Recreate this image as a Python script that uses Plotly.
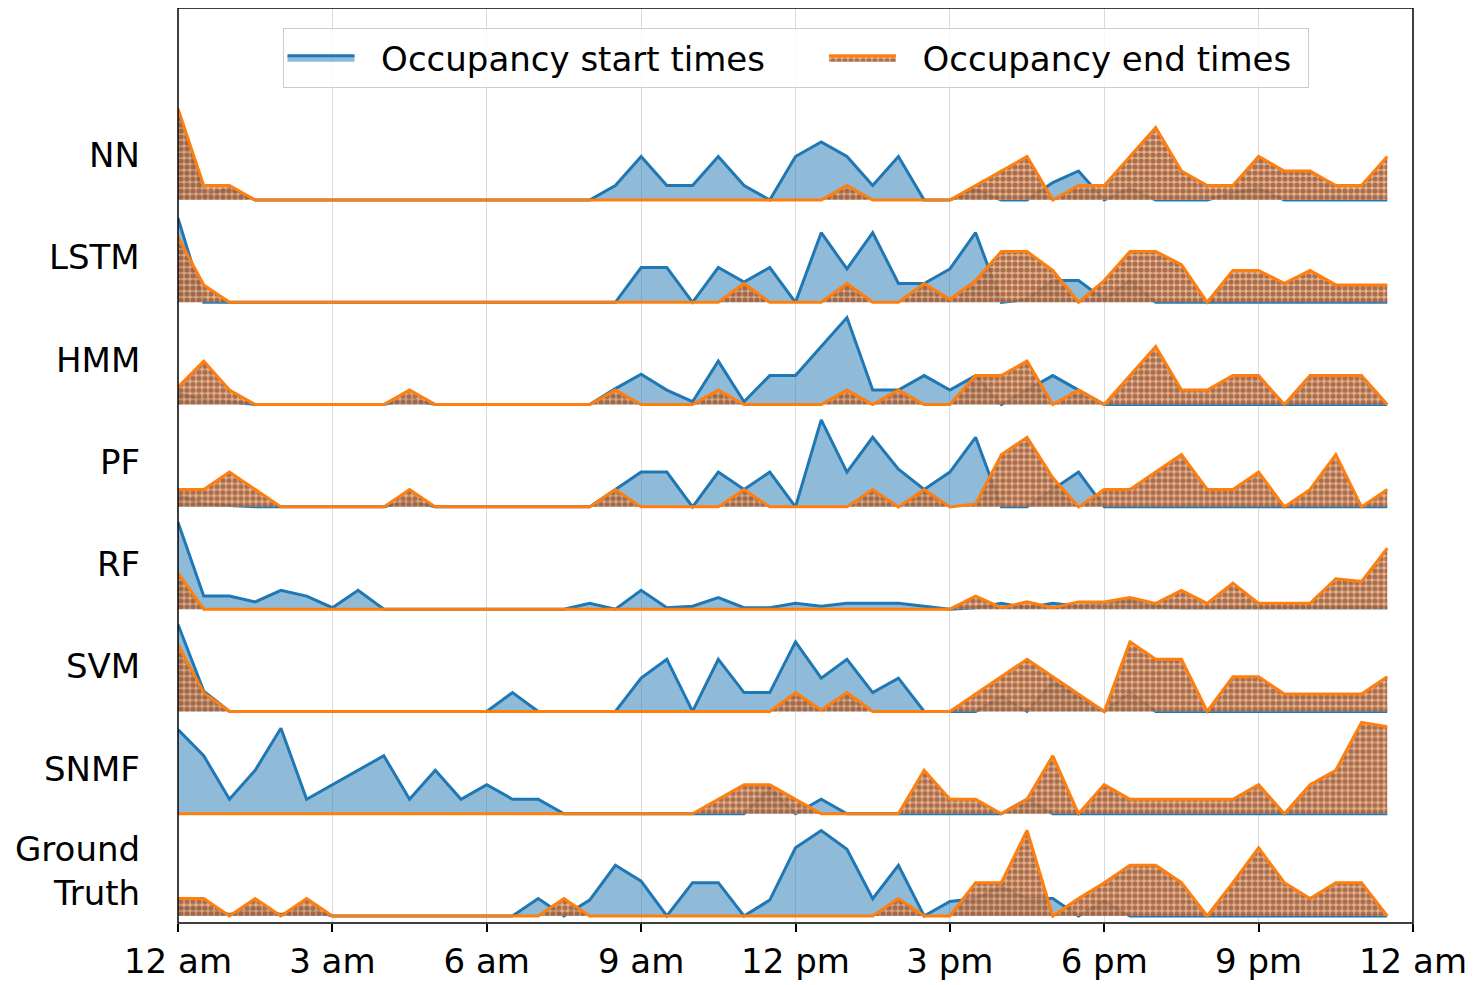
import plotly.graph_objects as go
from plotly.subplots import make_subplots

# ---------------- data (30-minute bins, 0..23.5 h) ----------------
hours = [i * 0.5 for i in range(48)]
tick_vals = [0, 3, 6, 9, 12, 15, 18, 21, 24]
tick_text = ["12 am", "3 am", "6 am", "9 am", "12 pm", "3 pm", "6 pm", "9 pm", "12 am"]
models = ["NN", "LSTM", "HMM", "PF", "RF", "SVM", "SNMF", "Ground<br>Truth"]
series_names = ["Occupancy start times", "Occupancy end times"]

NN_start = [6.0, 0.3, 0.8, 0, 0, 0, 0, 0, 0, 0, 0, 0,
            0, 0, 0, 0, 0, 1, 3, 1, 1, 3, 1, 0,
            3, 4, 3, 1, 3, 0, 0, 0.7, 0, 0, 1.2, 2,
            0, 0.8, 0, 0, 0, 0.5, 0.8, 0, 0, 0, 0, 0]
NN_end = [6.3, 1, 1, 0, 0, 0, 0, 0, 0, 0, 0, 0,
          0, 0, 0, 0, 0, 0, 0, 0, 0, 0, 0, 0,
          0, 0, 1, 0, 0, 0, 0, 1, 2, 3, 0, 1,
          1, 3, 5, 2, 1, 1, 3, 2, 2, 1, 1, 3]

LSTM_start = [5.8, 0, 0, 0, 0, 0, 0, 0, 0, 0, 0, 0,
              0, 0, 0, 0, 0, 0, 2.4, 2.4, 0, 2.4, 1.4, 2.4,
              0, 4.8, 2.3, 4.8, 1.3, 1.3, 2.3, 4.8, 0, 0.2, 1.5, 1.5,
              0.2, 1.5, 0, 0, 0, 0, 0, 0, 0, 0, 0, 0]
LSTM_end = [4.5, 1.2, 0, 0, 0, 0, 0, 0, 0, 0, 0, 0,
            0, 0, 0, 0, 0, 0, 0, 0, 0, 0, 1.3, 0,
            0, 0, 1.3, 0, 0, 1.3, 0.2, 1.5, 3.5, 3.5, 2.2, 0,
            1.5, 3.5, 3.5, 2.6, 0, 2.2, 2.2, 1.3, 2.2, 1.2, 1.2, 1.2]

HMM_start = [0.8, 0.3, 0.2, 0, 0, 0, 0, 0, 0, 0.4, 0, 0,
             0, 0, 0, 0, 0, 1.1, 2.1, 1.0, 0.2, 3.0, 0.2, 2.0,
             2.0, 4.0, 6.0, 1.0, 1.0, 2.0, 1.0, 2.0, 0, 1.0, 2.0, 1.0,
             0, 0, 0, 0, 0, 0, 0, 0, 0, 0, 0, 0]
HMM_end = [1.2, 3.0, 1.0, 0, 0, 0, 0, 0, 0, 1.0, 0, 0,
           0, 0, 0, 0, 0, 1.0, 0, 0, 0, 1.0, 0, 0,
           0, 0, 1.0, 0, 1.0, 0, 0, 2.0, 2.0, 3.0, 0, 1.0,
           0, 2.0, 4.0, 1.0, 1.0, 2.0, 2.0, 0, 2.0, 2.0, 2.0, 0]

PF_start = [0.8, 0.2, 0.1, 0, 0, 0, 0, 0, 0, 0.4, 0, 0,
            0, 0, 0, 0, 0, 1.2, 2.4, 2.4, 0, 2.4, 1.2, 2.4,
            0, 6.0, 2.4, 4.8, 2.6, 1.2, 2.4, 4.8, 0, 0, 1.2, 2.4,
            0, 0, 0, 0, 0, 0, 0, 0, 0, 0, 0, 0]
PF_end = [1.2, 1.2, 2.4, 1.2, 0, 0, 0, 0, 0, 1.2, 0, 0,
          0, 0, 0, 0, 0, 1.2, 0, 0, 0, 0, 1.2, 0,
          0, 0, 0, 1.2, 0, 1.2, 0, 0.2, 3.6, 4.8, 2.0, 0,
          1.2, 1.2, 2.4, 3.6, 1.2, 1.2, 2.4, 0, 1.2, 3.6, 0, 1.2]

RF_start = [6.0, 0.9, 0.9, 0.5, 1.3, 0.9, 0.1, 1.3, 0, 0, 0, 0,
            0, 0, 0, 0, 0.4, 0, 1.3, 0.1, 0.2, 0.8, 0.1, 0.1,
            0.4, 0.2, 0.4, 0.4, 0.4, 0.2, 0, 0.1, 0.4, 0.1, 0.4, 0.2,
            0.4, 0.5, 0.2, 0.1, 0.1, 0.1, 0.1, 0.1, 0.1, 0.1, 0.1, 0.1]
RF_end = [2.5, 0, 0, 0, 0, 0, 0, 0, 0, 0, 0, 0,
          0, 0, 0, 0, 0, 0, 0, 0, 0, 0, 0, 0,
          0, 0, 0, 0, 0, 0, 0, 0.9, 0.1, 0.5, 0.1, 0.5,
          0.5, 0.8, 0.4, 1.3, 0.4, 1.8, 0.4, 0.4, 0.4, 2.1, 1.9, 4.2]

SVM_start = [6.0, 1.4, 0, 0, 0, 0, 0, 0, 0, 0, 0, 0,
             0, 1.3, 0, 0, 0, 0, 2.3, 3.6, 0, 3.6, 1.3, 1.3,
             4.8, 2.3, 3.6, 1.3, 2.3, 0, 0, 0, 1.0, 0, 2.0, 1.0,
             0, 1.3, 0, 0, 0, 0, 0, 0, 0, 0, 0, 0]
SVM_end = [4.6, 1.3, 0, 0, 0, 0, 0, 0, 0, 0, 0, 0,
           0, 0, 0, 0, 0, 0, 0, 0, 0, 0, 0, 0,
           1.3, 0.1, 1.3, 0, 0, 0, 0, 1.2, 2.4, 3.6, 2.4, 1.2,
           0, 4.8, 3.6, 3.6, 0, 2.4, 2.4, 1.2, 1.2, 1.2, 1.2, 2.4]

SNMF_start = [5.8, 4.0, 1.0, 3.0, 5.9, 1.0, 2.0, 3.0, 4.0, 1.0, 3.0, 1.0,
              2.0, 1.0, 1.0, 0, 0, 0, 0, 0, 0, 0, 0, 1.7,
              0, 1.0, 0, 0, 0, 0, 0, 0, 0, 1.0, 0, 0,
              0, 0, 0, 0, 0, 0, 0, 0, 0, 0, 0, 0]
SNMF_end = [0, 0, 0, 0, 0, 0, 0, 0, 0, 0, 0, 0,
            0, 0, 0, 0, 0, 0, 0, 0, 0, 1.0, 2.0, 2.0,
            1.0, 0, 0, 0, 0, 3.0, 1.0, 1.0, 0, 1.0, 4.0, 0,
            2.0, 1.0, 1.0, 1.0, 1.0, 1.0, 2.0, 0, 2.0, 3.0, 6.3, 6.0]

GT_start = [0.5, 0.5, 0.1, 0.5, 0.1, 0.5, 0, 0, 0, 0, 0, 0,
            0, 0, 1.2, 0, 1.1, 3.5, 2.4, 0, 2.3, 2.3, 0, 1.1,
            4.7, 5.9, 4.6, 1.2, 3.5, 0, 1.0, 1.2, 2.0, 1.2, 1.2, 0,
            1.0, 0, 0, 0, 0, 0, 0, 0, 0, 0, 0, 0]
GT_end = [1.2, 1.2, 0, 1.2, 0, 1.2, 0, 0, 0, 0, 0, 0,
          0, 0, 0, 1.2, 0, 0, 0, 0, 0, 0, 0, 0,
          0, 0, 0, 0, 1.2, 0, 0, 2.3, 2.3, 5.9, 0, 1.2,
          2.3, 3.5, 3.5, 2.3, 0, 2.3, 4.7, 2.3, 1.2, 2.3, 2.3, 0]

start_series = [NN_start, LSTM_start, HMM_start, PF_start, RF_start, SVM_start, SNMF_start, GT_start]
end_series = [NN_end, LSTM_end, HMM_end, PF_end, RF_end, SVM_end, SNMF_end, GT_end]

# ---------------- layout geometry (page has an 8px body margin) ----------------
W, H = 1465, 977
ML, MR, MT, MB = 170, 60, 0, 62
PH = H - MT - MB          # plot-area height in px
PX_PER_UNIT = 14.5
ROW_STEP = 102.29
FIRST_BASE = 192          # baseline of the first row, in figure px
BELOW = 7
FONT = "DejaVu Sans"
FS = 34
NB = "\u00a0"

fig = make_subplots(rows=8, cols=1, shared_xaxes=True, vertical_spacing=0)

for k in range(8):
    r = k + 1
    fig.add_trace(go.Scatter(
        x=hours, y=start_series[k], mode="lines", fill="tozeroy",
        fillcolor="rgba(31,119,180,0.5)",
        line=dict(color="#1f77b4", width=3),
        name=NB * 2 + series_names[0] + NB * 5, legendgroup="start",
        showlegend=(k == 0)), row=r, col=1)
    fig.add_trace(go.Scatter(
        x=hours, y=end_series[k], mode="lines", fill="tozeroy",
        fillcolor="rgba(210,150,100,0.8)",
        fillpattern=dict(shape=".", bgcolor="rgba(222,165,115,0.85)",
                         fgcolor="rgba(115,40,22,1)", size=6, solidity=0.6),
        line=dict(color="#ff7f0e", width=3),
        name=NB * 2 + series_names[1] + NB, legendgroup="end",
        showlegend=(k == 0)), row=r, col=1)

annotations = []
for k in range(8):
    base = FIRST_BASE + ROW_STEP * k
    bot_px = base + BELOW
    top_px = MT if k == 0 else base + BELOW - ROW_STEP
    d0 = max(0.0, (MT + PH - bot_px) / PH)
    d1 = min(1.0, (MT + PH - top_px) / PH)
    yr = [-BELOW / PX_PER_UNIT, (bot_px - top_px - BELOW) / PX_PER_UNIT]
    yname = "yaxis" if k == 0 else f"yaxis{k + 1}"
    fig.layout[yname].update(domain=[d0, d1], range=yr, showticklabels=False,
                             showgrid=False, zeroline=False, ticks="", fixedrange=True)
    annotations.append(dict(
        text=models[k], x=0, xref="paper", xshift=-36, xanchor="right",
        y=45 / PX_PER_UNIT, yref=("y" if k == 0 else f"y{k + 1}"), yanchor="middle",
        align="right", showarrow=False, font=dict(family=FONT, size=FS, color="black")))

for k in range(8):
    xname = "xaxis" if k == 0 else f"xaxis{k + 1}"
    bottom = (k == 7)
    fig.layout[xname].update(
        range=[0, 24], tickmode="array", tickvals=tick_vals, ticktext=tick_text,
        showgrid=True, gridcolor="#dadada", gridwidth=1, zeroline=False,
        showticklabels=bottom, ticks=("outside" if bottom else ""),
        ticklen=8, tickwidth=1.5, tickcolor="black",
        tickfont=dict(family=FONT, size=FS, color="black"))

fig.update_layout(
    width=W, height=H,
    margin=dict(l=ML, r=MR, t=MT, b=MB),
    paper_bgcolor="white", plot_bgcolor="white",
    font=dict(family=FONT, size=FS, color="black"),
    annotations=annotations,
    shapes=[dict(type="rect", xref="paper", yref="paper", x0=0, x1=1, y0=0, y1=1,
                 line=dict(color="black", width=1.5), layer="above")],
    legend=dict(orientation="h", x=0.5, xanchor="center", y=0.978, yanchor="top",
                bgcolor="rgba(255,255,255,0.8)", bordercolor="#cccccc", borderwidth=1,
                font=dict(family=FONT, size=FS, color="black"),
                itemwidth=67),
)

fig.write_html("out.html")
